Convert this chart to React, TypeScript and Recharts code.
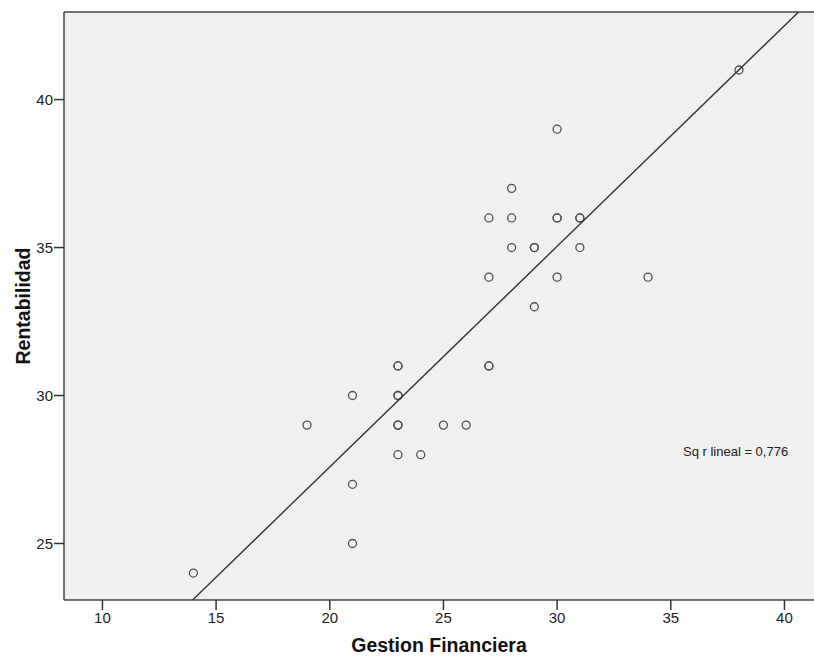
import {
  CartesianGrid,
  ReferenceLine,
  Scatter,
  ScatterChart,
  XAxis,
  YAxis,
} from "recharts";

// Gestion Financiera (x) vs Rentabilidad (y); repeated pairs are duplicated cases
const gestion = [
  14, 19, 21, 21, 21, 23, 23, 23, 23, 23, 23, 23, 24, 25, 26, 27, 27, 27, 27,
  28, 28, 28, 29, 29, 29, 30, 30, 30, 30, 31, 31, 31, 34, 38,
];
const rentabilidad = [
  24, 29, 30, 27, 25, 31, 31, 30, 30, 29, 29, 28, 28, 29, 29, 36, 34, 31, 31,
  37, 36, 35, 35, 35, 33, 39, 36, 36, 34, 36, 36, 35, 34, 41,
];
const xTicks = [10, 15, 20, 25, 30, 35, 40];
const yTicks = [25, 30, 35, 40];
const xDomain: [number, number] = [8.31, 41.3];
const yDomain: [number, number] = [23.09, 42.96];

const points = gestion.map((x, i) => ({ x, y: rentabilidad[i] }));

// least squares fit, clipped to the plot box
function fitLine() {
  const n = points.length;
  const mx = points.reduce((s, p) => s + p.x, 0) / n;
  const my = points.reduce((s, p) => s + p.y, 0) / n;
  let sxy = 0;
  let sxx = 0;
  for (const p of points) {
    sxy += (p.x - mx) * (p.y - my);
    sxx += (p.x - mx) * (p.x - mx);
  }
  const m = sxy / sxx;
  const b = my - m * mx;
  const x0 = Math.max(xDomain[0], (yDomain[0] - b) / m);
  const x1 = Math.min(xDomain[1], (yDomain[1] - b) / m);
  return [
    { x: x0, y: m * x0 + b },
    { x: x1, y: m * x1 + b },
  ];
}

const fit = fitLine();

const Ring = (props: { cx?: number; cy?: number }) => (
  <circle cx={props.cx} cy={props.cy} r={4} fill="none" stroke="#505050" strokeWidth={1.3} />
);

const font = "Liberation Sans, Arial, sans-serif";
const tickStyle = { fill: "#222", fontSize: 15, fontFamily: font };

export default function App() {
  return (
    <div style={{ position: "absolute", left: 0, top: 0, width: 814, height: 656, background: "#fff" }}>
      <ScatterChart width={814} height={656} margin={{ top: 12, right: 0, bottom: 0, left: 0 }}>
        <CartesianGrid fill="#f0f0f0" horizontal={false} vertical={false} />
        <XAxis
          type="number"
          dataKey="x"
          domain={xDomain}
          ticks={xTicks}
          allowDataOverflow
          height={56}
          tick={tickStyle}
          tickSize={10}
          tickMargin={2}
          tickLine={{ stroke: "#333", strokeWidth: 1.5 }}
          axisLine={{ stroke: "#444", strokeWidth: 1.5 }}
        />
        <YAxis
          type="number"
          dataKey="y"
          domain={yDomain}
          ticks={yTicks}
          allowDataOverflow
          width={64}
          tick={tickStyle}
          tickSize={10}
          tickMargin={1}
          tickLine={{ stroke: "#333", strokeWidth: 1.5 }}
          axisLine={{ stroke: "#444", strokeWidth: 1.5 }}
        />
        <ReferenceLine y={yDomain[1]} stroke="#444" strokeWidth={1.5} />
        <Scatter data={points} shape={<Ring />} isAnimationActive={false} />
        <Scatter
          data={fit}
          line={{ stroke: "#333", strokeWidth: 1.4 }}
          shape={() => <g />}
          isAnimationActive={false}
        />
      </ScatterChart>
      <div
        style={{
          position: "absolute",
          left: 0,
          top: 634,
          width: 878,
          textAlign: "center",
          fontFamily: font,
          fontWeight: "bold",
          fontSize: 19.5,
          color: "#111",
          lineHeight: "22px",
        }}
      >
        Gestion Financiera
      </div>
      <div
        style={{
          position: "absolute",
          left: 23,
          top: 306,
          transform: "translate(-50%, -50%) rotate(-90deg)",
          fontFamily: font,
          fontWeight: "bold",
          fontSize: 19.5,
          color: "#111",
          whiteSpace: "nowrap",
          lineHeight: "22px",
        }}
      >
        Rentabilidad
      </div>
      <div
        style={{
          position: "absolute",
          left: 683,
          top: 444,
          fontFamily: font,
          fontSize: 13,
          color: "#222",
          whiteSpace: "nowrap",
          lineHeight: "16px",
        }}
      >
        Sq r lineal = 0,776
      </div>
    </div>
  );
}
